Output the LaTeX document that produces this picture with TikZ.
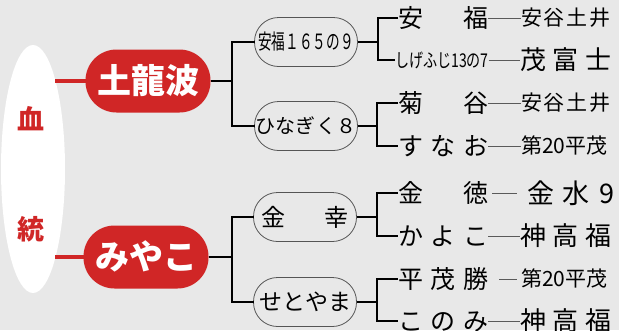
\documentclass[tikz,border=0pt]{standalone}
\usepackage{fontspec}
\usepackage{graphicx}
\newfontfamily\jp{Noto Sans CJK JP}
\usetikzlibrary{shapes.geometric}
\definecolor{bgc}{RGB}{232,232,232}
\definecolor{redc}{RGB}{208,38,38}
\definecolor{oline}{RGB}{85,85,85}
\definecolor{thin}{RGB}{90,90,90}
\newcommand\fsz[1]{\fontsize{#1}{#1}\selectfont}
\begin{document}
\begin{tikzpicture}[x=1pt,y=-1pt,
  every node/.style={inner sep=0pt, outer sep=0pt},
  t/.style={font=\jp\fsz{#1}, text height={0.88*#1pt}, text depth={0.12*#1pt}},
  redbox/.style={fill=redc, rounded corners=31pt, minimum width=125pt, minimum height=63pt, text=white, t=34},
  redchar/.style={text=redc, font=\jp\bfseries\fsz{27}},
  oval/.style={draw=oline, line width=0.8pt, rounded corners=24pt, minimum width=103pt, minimum height=49pt},
  redline/.style={draw=redc, line width=4pt},
  bracket/.style={draw=black, line width=1.8pt},
  link/.style={draw=thin, line width=0.9pt},
  lcol/.style={anchor=west, t=25},
]
\useasboundingbox (0,0) rectangle (619,330);
\fill[bgc] (0,0) rectangle (619,330);

% left band
\node[ellipse, fill=white, minimum width=64pt, minimum height=248pt] (band) at (33,169) {};
\node[redchar] (c1) at (31,119) {血};
\node[redchar] (c2) at (31,229) {統};

% red boxes
\node[redbox] (tb) at (148,81) {\bfseries 土龍波};
\node[redbox] (my) at (146,257) {\bfseries みやこ};
\draw[redline] (tb.west) -- (tb.west -| band.76);
\draw[redline] (my.west) -- (my.west -| band.-76);

% ovals
\node[oval, t=21] (o1) at (306,42) {\scalebox{0.65}[1]{安福１６５の９}};
\node[oval, t=20] (o2) at (306,126) {ひなぎく８};
\node[oval, t=24] (o3) at (305,217) {\makebox[88pt][s]{金\hfill 幸}};
\node[oval, t=23] (o4) at (305,302) {せとやま};

\coordinate (j1) at (232,81);
\coordinate (j2) at (232,257);
\draw[bracket] (tb.east) -- (j1);
\draw[bracket] (o1.west) -| (j1) |- (o2.west);
\draw[bracket] (my.east) -- (j2);
\draw[bracket] (o3.west) -| (j2) |- (o4.west);

% right column texts
\node[lcol] (r1) at (398,18) {\makebox[90pt][s]{安\hfill 福}};
\node[anchor=west, t=19] (r2) at (395,60) {\scalebox{0.74}[1]{しげふじ13の7}};
\node[lcol] (r3) at (398,103) {\makebox[90pt][s]{菊\hfill 谷}};
\node[lcol] (r4) at (398,146) {\makebox[90pt][s]{す\hfill な\hfill お}};
\node[lcol] (r5) at (398,193) {\makebox[90pt][s]{金\hfill 徳}};
\node[lcol] (r6) at (398,236) {\makebox[90pt][s]{か\hfill よ\hfill こ}};
\node[lcol] (r7) at (398,279) {\makebox[90pt][s]{平\hfill 茂\hfill 勝}};
\node[lcol] (r8) at (398,321) {\makebox[90pt][s]{こ\hfill の\hfill み}};

\node[anchor=west, t=21] (s1) at (521,18) {\makebox[90pt][s]{安\hfill 谷\hfill 土\hfill 井}};
\node[anchor=west, t=26] (s2) at (520,60) {\makebox[92pt][s]{茂\hfill 富\hfill 士}};
\node[anchor=west, t=21] (s3) at (521,103) {\makebox[90pt][s]{安\hfill 谷\hfill 土\hfill 井}};
\node[anchor=west, t=21] (s4) at (521,146) {第20平茂};
\node[anchor=west, t=27] (s5) at (527,193) {\makebox[87pt][s]{金\hfill 水\hfill 9}};
\node[anchor=west, t=26] (s6) at (520,236) {\makebox[92pt][s]{神\hfill 高\hfill 福}};
\node[anchor=west, t=21] (s7) at (521,279) {第20平茂};
\node[anchor=west, t=26] (s8) at (520,321) {\makebox[92pt][s]{神\hfill 高\hfill 福}};

\coordinate (k1) at (378,42);
\coordinate (k2) at (377,126);
\coordinate (k3) at (377,217);
\coordinate (k4) at (377,302);
\draw[bracket, line width=1.2pt] (o1.east) -- (k1);
\draw[bracket, line width=1.2pt] (r1.west) -| (k1) |- (r2.west);
\draw[bracket, line width=1.2pt] (o2.east) -- (k2);
\draw[bracket, line width=1.2pt] (r3.west) -| (k2) |- (r4.west);
\draw[bracket, line width=1.2pt] (o3.east) -- (k3);
\draw[bracket, line width=1.2pt] (r5.west) -| (k3) |- (r6.west);
\draw[bracket, line width=1.2pt] (o4.east) -- (k4);
\draw[bracket, line width=1.2pt] (r7.west) -| (k4) |- (r8.west);

% links
\draw[link] (r1.east) -- (s1.west);
\draw[link] (r2.east) -- (s2.west);
\draw[link] (r3.east) -- (s3.west);
\draw[link] (r4.east) -- (s4.west);
\draw[link] ([xshift=4pt]r5.east) -- ([xshift=-10pt]s5.west);
\draw[link] (r6.east) -- (s6.west);
\draw[link] ([xshift=11pt]r7.east) -- ([xshift=-4pt]s7.west);
\draw[link] (r8.east) -- (s8.west);
\end{tikzpicture}
\end{document}
